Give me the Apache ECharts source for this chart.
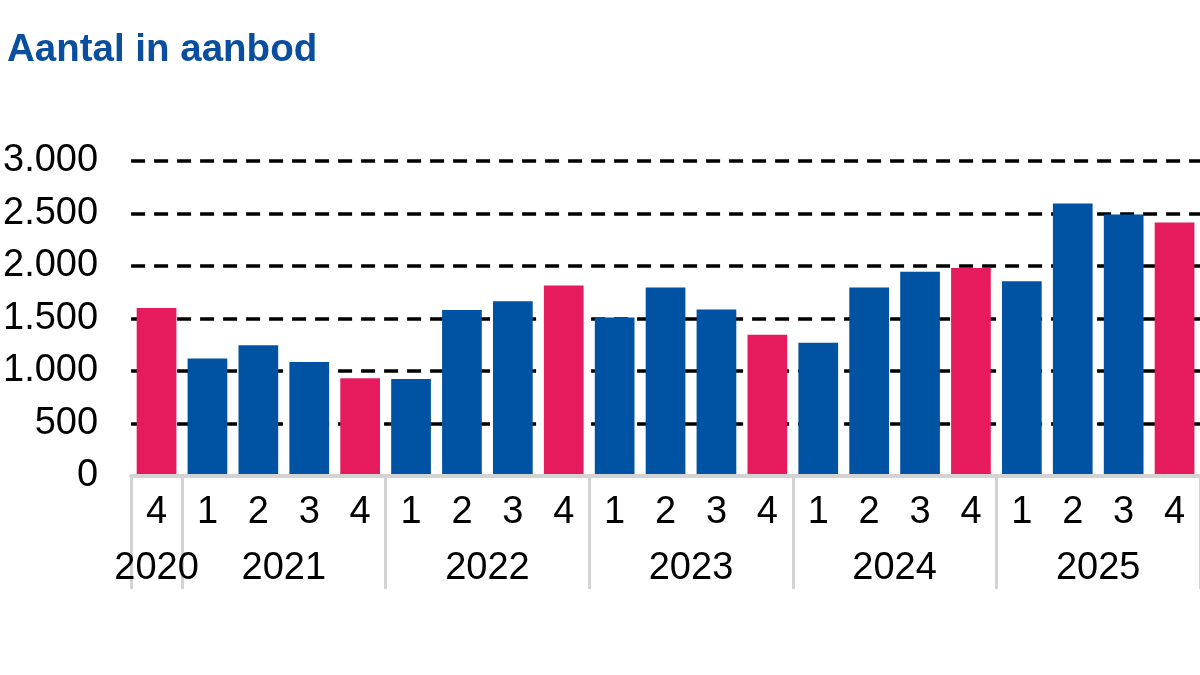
<!DOCTYPE html>
<html>
<head>
<meta charset="utf-8">
<script src="https://cdn.jsdelivr.net/npm/echarts@6/dist/echarts.min.js"></script>
<style>
html,body{margin:0;padding:0;background:#fff;}
#chart{width:1200px;height:675px;}
</style>
</head>
<body>
<div id="chart"></div>
<script>
const titleText = 'Aantal in aanbod';
const quarterLabels = ['4','1','2','3','4','1','2','3','4','1','2','3','4','1','2','3','4','1','2','3','4'];
const yearLabels = ['2020','2021','2021','2021','2021','2022','2022','2022','2022','2023','2023','2023','2023','2024','2024','2024','2024','2025','2025','2025','2025'];
const values = [1600,1120,1245,1085,930,925,1580,1665,1815,1510,1795,1585,1345,1270,1795,1945,1980,1855,2595,2490,2415];
const yTicks = [0,500,1000,1500,2000,2500,3000];

const BLUE = '#0052a2';
const PINK = '#e51b5e';
const GRAY = '#d3d3d3';
const FONT = "'Liberation Sans', Arial, sans-serif";

// year groups -> boundaries and centres on a boundary-based value axis
const groups = [];
yearLabels.forEach((y, i) => {
  if (!groups.length || groups[groups.length - 1].year !== y) groups.push({year: y, start: i, end: i});
  else groups[groups.length - 1].end = i;
});
const boundaries = groups.map(g => g.start).concat([values.length]);
const centres = groups.map(g => (g.start + g.end + 1) / 2);
const centreYear = {};
groups.forEach((g, k) => { centreYear[centres[k]] = g.year; });

const chart = echarts.init(document.getElementById('chart'));
chart.setOption({
  animation: false,
  title: {
    text: titleText, left: 2, top: 26,
    textStyle: {color: '#0a4f9f', fontSize: 38.5, fontWeight: 'bold', fontFamily: FONT}
  },
  grid: {left: 130, right: 0, top: 161, bottom: 199, containLabel: false},
  xAxis: [{
    type: 'category',
    data: quarterLabels,
    z: 5,
    axisLine: {show: true, lineStyle: {color: GRAY, width: 4}},
    axisTick: {show: false},
    axisLabel: {color: '#000', fontSize: 38, fontFamily: FONT, margin: 18, interval: 0}
  }, {
    type: 'value',
    min: 0, max: values.length,
    position: 'bottom',
    z: 5,
    axisLine: {show: false},
    splitLine: {show: false},
    axisTick: {show: true, customValues: boundaries, length: 113, lineStyle: {color: GRAY, width: 3}},
    axisLabel: {
      show: true, customValues: centres, color: '#000', fontSize: 38, fontFamily: FONT, margin: 74,
      formatter: v => centreYear[v] || ''
    }
  }],
  yAxis: {
    type: 'value',
    min: yTicks[0], max: yTicks[yTicks.length - 1], interval: 500,
    axisLine: {show: false},
    axisTick: {show: false},
    axisLabel: {
      color: '#000', fontSize: 38, fontFamily: FONT, margin: 33,
      formatter: v => v.toString().replace(/\B(?=(\d{3})+(?!\d))/g, '.')
    },
    splitLine: {show: true, lineStyle: {color: '#000', width: 3.5, type: [14, 9]}}
  },
  series: [{
    type: 'bar',
    xAxisIndex: 0,
    barCategoryGap: '22%',
    data: values.map((v, i) => ({value: v, itemStyle: {color: quarterLabels[i] === '4' ? PINK : BLUE}}))
  }]
});
</script>
</body>
</html>
